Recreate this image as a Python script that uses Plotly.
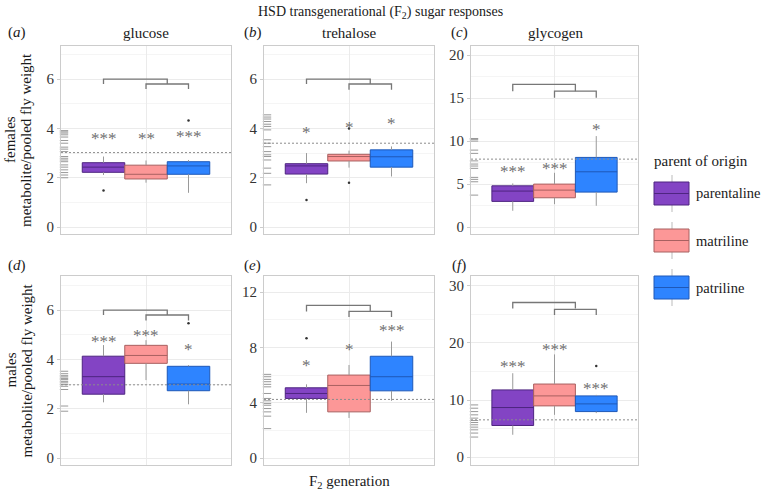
import plotly.graph_objects as go

# ---------------- data ----------------
groups = ["parentaline", "matriline", "patriline"]
metabolites = ["glucose", "trehalose", "glycogen"]
sexes = ["females", "males"]
panel_ids = ["a", "b", "c", "d", "e", "f"]

lower_whisker = {
    "a": [2.11, 1.80, 1.39],
    "b": [1.78, 2.41, 2.05],
    "c": [1.90, 2.67, 2.48],
    "d": [2.26, 3.16, 2.18],
    "e": [3.27, 2.90, 4.14],
    "f": [3.90, 7.40, 7.70],
}
q1 = {
    "a": [2.22, 1.95, 2.14],
    "b": [2.15, 2.68, 2.43],
    "c": [2.99, 3.41, 4.07],
    "d": [2.59, 3.84, 2.73],
    "e": [4.31, 3.34, 4.86],
    "f": [5.53, 8.97, 7.97],
}
median = {
    "a": [2.43, 2.14, 2.48],
    "b": [2.48, 2.86, 2.85],
    "c": [4.19, 4.30, 6.43],
    "d": [3.30, 4.16, 3.00],
    "e": [4.67, 5.25, 5.88],
    "f": [8.68, 10.72, 9.32],
}
q3 = {
    "a": [2.61, 2.51, 2.65],
    "b": [2.57, 2.95, 3.13],
    "c": [4.80, 5.00, 8.10],
    "d": [4.13, 4.57, 3.72],
    "e": [5.08, 6.00, 7.36],
    "f": [11.77, 12.80, 10.72],
}
upper_whisker = {
    "a": [2.86, 2.70, 2.72],
    "b": [3.00, 3.10, 3.27],
    "c": [5.08, 6.31, 10.58],
    "d": [4.58, 4.78, 3.77],
    "e": [5.33, 6.73, 8.42],
    "f": [14.70, 18.00, 10.90],
}
outliers = {
    "a": [[1.48], [], [4.32]],
    "b": [[1.10], [4.00, 1.80], []],
    "c": [[], [], []],
    "d": [[], [], [5.47]],
    "e": [[8.66], [], []],
    "f": [[], [], [15.97]],
}
# reference (parental generation) values shown as rug + dashed mean line
rug_values = {
    "a": [3.91, 3.86, 3.81, 3.74, 3.65, 3.51, 3.40, 3.24, 3.16, 3.06,
          2.86, 2.79, 2.72, 2.65, 2.52, 2.43, 2.32, 2.21, 2.11, 2.00],
    "b": [4.55, 4.46, 4.38, 4.28, 4.17, 4.08, 3.94, 3.54, 3.40, 3.26,
          3.06, 2.93, 2.86, 2.72, 2.39, 2.18, 1.71],
    "c": [10.3, 10.2, 10.0, 8.95, 8.57, 7.70, 7.33, 7.10, 6.83, 5.78, 5.55, 5.27, 3.72],
    "d": [3.52, 3.42, 3.34, 3.29, 3.23, 3.18, 3.11, 3.05, 2.98, 2.91, 2.78, 2.11, 1.90],
    "e": [6.05, 5.88, 5.69, 5.52, 5.33, 5.15, 4.67, 4.31, 4.14, 3.95, 3.82,
          3.58, 3.34, 3.03, 2.13],
    "f": [9.14, 8.56, 7.97, 7.40, 6.82, 6.40, 6.05, 5.65, 5.24, 4.77, 4.20, 3.50],
}
ref_mean = {"a": 3.02, "b": 3.40, "c": 7.90, "d": 2.97, "e": 4.24, "f": 6.52}

star_labels = {
    "a": ["***", "**", "***"],
    "b": ["*", "*", "*"],
    "c": ["***", "***", "*"],
    "d": ["***", "***", "*"],
    "e": ["*", "*", "***"],
    "f": ["***", "***", "***"],
}
star_y = {
    "a": [3.74, 3.74, 3.83],
    "b": [4.00, 4.20, 4.38],
    "c": [6.94, 7.33, 11.78],
    "d": [4.87, 5.12, 4.58],
    "e": [6.97, 8.13, 9.51],
    "f": [16.6, 19.5, 12.65],
}
# bracket levels: [outer bar, outer tip end, inner bar, inner tip end]
bracket_levels = {
    "a": [6.0, 5.8, 5.8, 5.6],
    "b": [6.0, 5.8, 5.8, 5.57],
    "c": [16.6, 15.8, 15.8, 15.03],
    "d": [6.0, 5.8, 5.8, 5.58],
    "e": [11.03, 10.6, 10.6, 10.19],
    "f": [27.1, 26.05, 25.9, 24.9],
}

y_ranges = {"a": [-0.28, 7.34], "b": [-0.28, 7.34], "c": [-0.8, 21.05],
            "d": [-0.28, 7.38], "e": [-0.5, 13.16], "f": [-1.4, 31.75]}
y_dtick = {"a": 2, "b": 2, "c": 5, "d": 2, "e": 4, "f": 10}

# ---------------- style ----------------
W, H = 761, 495
FONT = "Liberation Serif, Times New Roman, DejaVu Serif, serif"
TXT = "#1A1A1A"
fill_colors = ["#8344C4", "#FC9797", "#2E84FF"]
line_colors = ["#4E2580", "#A86060", "#1E58B8"]
whisker_color = "#9A9A9A"
x_pos = [0.7, 1.0, 1.3]
box_w = 0.3
col_px = [(61, 231), (264, 434), (471, 638)]
row_px = [(46, 234), (276, 465)]


def px_x(v):
    return v / W


def px_y(v):
    return 1 - v / H


def paper_text(x, y, text, size=14, xanchor="center", angle=0):
    return dict(x=px_x(x), y=px_y(y), xref="paper", yref="paper", text=text,
                showarrow=False, xanchor=xanchor, yanchor="middle", textangle=angle,
                font=dict(family=FONT, size=size, color=TXT))


fig = go.Figure()
layout = {}
shapes = []
annotations = []

for idx, pid in enumerate(panel_ids):
    r, c = divmod(idx, 3)
    n = idx + 1
    xa = "x" if n == 1 else f"x{n}"
    ya = "y" if n == 1 else f"y{n}"
    xkey = "xaxis" if n == 1 else f"xaxis{n}"
    ykey = "yaxis" if n == 1 else f"yaxis{n}"

    layout[xkey] = dict(
        domain=[px_x(col_px[c][0]), px_x(col_px[c][1])], anchor=ya,
        range=[0.4, 1.6], tickvals=[1], showticklabels=False, ticks="",
        showgrid=True, gridcolor="#EBEBEB", gridwidth=1, zeroline=False,
        showline=True, mirror=True, linecolor="#CCCCCC", linewidth=1,
    )
    layout[ykey] = dict(
        domain=[px_y(row_px[r][1]), px_y(row_px[r][0])], anchor=xa,
        range=y_ranges[pid], tick0=0, dtick=y_dtick[pid],
        showgrid=True, gridcolor="#EBEBEB", gridwidth=1, zeroline=False,
        minor=dict(dtick=y_dtick[pid] / 2, showgrid=True, gridcolor="#F5F5F5", ticks=""),
        ticks="outside", ticklen=3, tickcolor="#CCCCCC",
        showline=True, mirror=True, linecolor="#CCCCCC", linewidth=1,
        tickfont=dict(family=FONT, size=15, color="#333333"),
    )

    # whiskers
    for g in range(3):
        p = x_pos[g]
        fig.add_trace(go.Scatter(
            x=[p, p, None, p, p],
            y=[upper_whisker[pid][g], q3[pid][g], None, q1[pid][g], lower_whisker[pid][g]],
            mode="lines", line=dict(color=whisker_color, width=1),
            xaxis=xa, yaxis=ya, showlegend=False, hoverinfo="skip"))
    # boxes
    for g in range(3):
        fig.add_trace(go.Box(
            x=[x_pos[g]], q1=[q1[pid][g]], median=[median[pid][g]], q3=[q3[pid][g]],
            lowerfence=[q1[pid][g]], upperfence=[q3[pid][g]],
            width=box_w, whiskerwidth=0, boxpoints=False, orientation="v",
            fillcolor=fill_colors[g], line=dict(color=line_colors[g], width=1),
            xaxis=xa, yaxis=ya, showlegend=False, hoverinfo="skip", name=groups[g]))
    # outliers
    for g in range(3):
        if outliers[pid][g]:
            fig.add_trace(go.Scatter(
                x=[x_pos[g]] * len(outliers[pid][g]), y=outliers[pid][g], mode="markers",
                marker=dict(color="#333333", size=2.5), xaxis=xa, yaxis=ya,
                showlegend=False, hoverinfo="skip"))
    # rug
    fig.add_trace(go.Scatter(
        x=[0.4 + 3.0 / (col_px[c][1] - col_px[c][0]) * 1.2] * len(rug_values[pid]),
        y=rug_values[pid], mode="markers",
        marker=dict(symbol="line-ew", size=6, line=dict(color="#999999", width=1)),
        xaxis=xa, yaxis=ya, showlegend=False, hoverinfo="skip", cliponaxis=False))
    # dashed reference mean line
    shapes.append(dict(type="line", xref=f"{xa} domain", yref=ya, x0=0, x1=1,
                       y0=ref_mean[pid], y1=ref_mean[pid],
                       line=dict(color="#8C8C8C", width=1, dash="2px,2px")))
    # significance brackets
    top, top_tip, inner, inner_tip = bracket_levels[pid]
    mid = (x_pos[1] + x_pos[2]) / 2
    fig.add_trace(go.Scatter(
        x=[x_pos[0], x_pos[0], mid, mid, None, x_pos[1], x_pos[1], x_pos[2], x_pos[2]],
        y=[top_tip, top, top, top_tip, None, inner_tip, inner, inner, inner_tip],
        mode="lines", line=dict(color="#777777", width=1.3),
        xaxis=xa, yaxis=ya, showlegend=False, hoverinfo="skip"))
    # stars
    for g in range(3):
        annotations.append(dict(
            x=x_pos[g], y=star_y[pid][g], xref=xa, yref=ya, text=star_labels[pid][g],
            showarrow=False, xanchor="center", yanchor="middle", yshift=-4,
            font=dict(family=FONT, size=17, color="#707070")))

# ---------------- text ----------------
annotations.append(paper_text(380, 12, "HSD transgenerational (F<sub>2</sub>) sugar responses", 14))
col_title_x = [146, 349, 555]
for c, name in enumerate(metabolites):
    annotations.append(paper_text(col_title_x[c], 33, name, 15))
letter_pos = [(17, 33), (253, 33), (459, 33), (17, 265), (253, 265), (459, 265)]
for pid, (lx, ly) in zip(panel_ids, letter_pos):
    annotations.append(paper_text(lx, ly, f"(<i>{pid}</i>)", 15))
for r, sex in enumerate(sexes):
    cy = (row_px[r][0] + row_px[r][1]) / 2
    annotations.append(paper_text(10, cy, sex, 15, angle=-90))
    annotations.append(paper_text(26, cy, "metabolite/pooled fly weight", 15, angle=-90))
annotations.append(paper_text(349, 482, "F<sub>2</sub> generation", 15))

# ---------------- legend (drawn as keys) ----------------
annotations.append(paper_text(652, 161, "parent of origin", 15, xanchor="left"))
key_tops = [182, 229, 276]
for g, name in enumerate(groups):
    t = key_tops[g]
    b = t + 23
    m = (t + b) / 2
    shapes.append(dict(type="line", xref="paper", yref="paper", x0=px_x(672), x1=px_x(672),
                       y0=px_y(t - 7), y1=px_y(b + 7), line=dict(color="#BBBBBB", width=1)))
    shapes.append(dict(type="rect", xref="paper", yref="paper", x0=px_x(654), x1=px_x(689),
                       y0=px_y(b), y1=px_y(t), fillcolor=fill_colors[g],
                       line=dict(color=line_colors[g], width=1)))
    shapes.append(dict(type="line", xref="paper", yref="paper", x0=px_x(654), x1=px_x(689),
                       y0=px_y(m), y1=px_y(m), line=dict(color=line_colors[g], width=1)))
    annotations.append(paper_text(694, m, name, 14.5, xanchor="left"))

fig.update_layout(
    width=W, height=H, margin=dict(l=0, r=0, t=0, b=0),
    paper_bgcolor="white", plot_bgcolor="white", showlegend=False,
    boxmode="overlay", shapes=shapes, annotations=annotations,
    font=dict(family=FONT), **layout)

fig.write_html("out.html", config={"displayModeBar": False},
               post_script="document.body.style.margin='0';document.body.style.overflow='hidden';")
